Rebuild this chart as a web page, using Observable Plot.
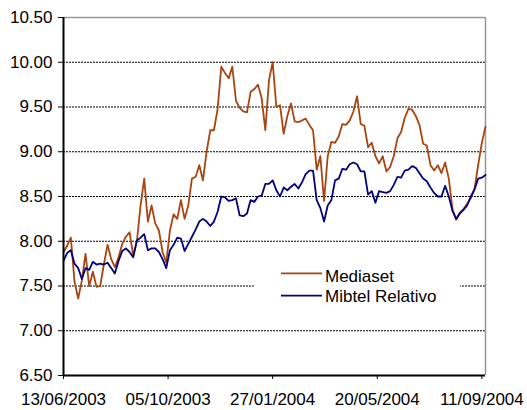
<!DOCTYPE html>
<html><head><meta charset="utf-8">
<script src="https://cdn.jsdelivr.net/npm/d3@7"></script>
<script src="https://cdn.jsdelivr.net/npm/@observablehq/plot@0.6"></script>
<style>
body{margin:0;background:#fff;}
#wrap{position:relative;width:527px;height:410px;font-family:"Liberation Sans",Arial,sans-serif;}
#legend{position:absolute;left:254px;top:262px;width:206px;height:46px;background:#fff;}
#legend svg{display:block;}
</style>
</head><body>
<div id="wrap"><div id="chart"></div><div id="legend"></div></div>
<script>
const startDate = "13/06/2003";
const xTickLabels = ["13/06/2003","05/10/2003","27/01/2004","20/05/2004","11/09/2004"];
const yTickLabels = ["6.50","7.00","7.50","8.00","8.50","9.00","9.50","10.00","10.50"];
const seriesNames = ["Mediaset","Mibtel Relativo"];
const seriesColors = ["#A8450F","#000080"];
// days after start date
const days = [0,4,8,12,16,20,24,28,32,36,40,44,48,52,56,60,64,68,72,76,80,84,88,92,96,100,104,108,112,116,120,124,128,132,136,140,144,148,152,156,160,164,168,172,176,180,184,188,192,196,200,204,208,212,216,220,224,228,232,236,240,244,248,252,256,260,264,268,272,276,280,284,288,292,296,300,304,308,312,316,320,324,328,332,336,340,344,348,352,356,360,364,368,372,376,380,384,388,392,396,400,404,408,412,416,420,424,428,432,436,440,444,448,452,456,460];
const mediaset = [7.88,7.95,8.04,7.55,7.36,7.56,7.86,7.50,7.66,7.49,
7.50,7.74,7.96,7.80,7.71,7.82,7.97,8.05,8.10,7.84,
8.00,8.40,8.70,8.22,8.40,8.20,8.12,7.88,7.76,8.12,
8.30,8.25,8.46,8.25,8.40,8.70,8.72,8.85,8.68,9.00,
9.24,9.24,9.48,9.95,9.88,9.82,9.95,9.57,9.49,9.45,
9.44,9.67,9.70,9.75,9.60,9.24,9.80,10.00,9.50,9.52,
9.20,9.40,9.54,9.34,9.33,9.35,9.37,9.30,9.24,8.80,
8.95,8.45,8.95,9.11,9.10,9.17,9.31,9.30,9.35,9.45,
9.62,9.31,9.29,9.05,9.10,8.95,8.87,8.95,8.78,8.83,
8.95,9.15,9.22,9.38,9.48,9.47,9.40,9.30,9.09,9.07,
8.85,8.79,8.85,8.76,8.88,8.70,8.36,8.24,8.32,8.36,
8.42,8.48,8.58,8.85,9.10,9.28];
const mibtel = [7.78,7.87,7.90,7.75,7.70,7.58,7.70,7.68,7.77,7.74,
7.75,7.74,7.76,7.70,7.64,7.78,7.89,7.92,7.88,7.82,
8.01,8.04,8.08,7.90,7.92,7.92,7.88,7.80,7.70,7.90,
7.96,8.04,8.03,7.89,7.97,8.05,8.13,8.22,8.25,8.22,
8.17,8.22,8.33,8.50,8.49,8.45,8.46,8.48,8.29,8.28,
8.31,8.46,8.44,8.50,8.51,8.64,8.64,8.68,8.57,8.50,
8.60,8.57,8.61,8.64,8.59,8.66,8.75,8.79,8.79,8.46,
8.37,8.22,8.40,8.46,8.68,8.70,8.81,8.80,8.86,8.88,
8.86,8.78,8.78,8.52,8.56,8.43,8.56,8.55,8.54,8.56,
8.63,8.72,8.71,8.79,8.80,8.84,8.82,8.76,8.70,8.67,
8.60,8.54,8.50,8.50,8.62,8.50,8.34,8.25,8.31,8.35,
8.40,8.50,8.58,8.70,8.71,8.74];

const parse = d3.timeParse("%d/%m/%Y");
const start = parse(startDate);
const rows = days.map((d,i)=>({date:d3.timeDay.offset(start,d), m:mediaset[i], b:mibtel[i]}));
const xStart = rows[0].date, xEnd = rows[rows.length-1].date;
const yTicks = yTickLabels.map(Number);
const grid = yTicks.slice(1,-1);
const font = '"Liberation Sans",Arial,sans-serif';

const chart = Plot.plot({
  width:527, height:410,
  marginLeft:63, marginRight:42, marginTop:17, marginBottom:35,
  x:{type:"time", domain:[xStart,xEnd]},
  y:{domain:[yTicks[0], yTicks[yTicks.length-1]]},
  style:{fontFamily:font, fontSize:"17px", color:"#000", background:"#fff", overflow:"visible"},
  marks:[
    Plot.ruleY(grid,{stroke:"#000", strokeWidth:1, strokeDasharray:"2,1"}),
    Plot.ruleY([yTicks[yTicks.length-1]],{stroke:"#999", strokeWidth:1.5}),
    Plot.ruleX([xEnd],{stroke:"#999", strokeWidth:1.5}),
    Plot.lineY(rows,{x:"date", y:"m", stroke:seriesColors[0], strokeWidth:1.8}),
    Plot.lineY(rows,{x:"date", y:"b", stroke:seriesColors[1], strokeWidth:1.8}),
    Plot.ruleX([xStart],{stroke:"#000", strokeWidth:2}),
    Plot.ruleY([yTicks[0]],{stroke:"#000", strokeWidth:2}),
    Plot.axisY({ticks:yTicks, tickFormat:(d)=>yTickLabels[yTicks.indexOf(d)], tickSize:5, tickPadding:6, fontSize:17, stroke:"#000"}),
    Plot.axisX({ticks:xTickLabels.map(parse), tickFormat:d3.timeFormat("%d/%m/%Y"), tickSize:4, tickPadding:13, fontSize:17, stroke:"#000"})
  ]
});
document.getElementById("chart").appendChild(chart);

// legend
const lg = d3.select("#legend").append("svg").attr("width",206).attr("height",46)
  .style("font-family",font).style("font-size","17px");
const rowsY = [{line:11.3, text:19.7},{line:33.7, text:39.7}];
seriesNames.forEach((n,i)=>{
  lg.append("line").attr("x1",27).attr("x2",68).attr("y1",rowsY[i].line).attr("y2",rowsY[i].line)
    .attr("stroke",seriesColors[i]).attr("stroke-width",1.8);
  lg.append("text").attr("x",71).attr("y",rowsY[i].text).attr("fill","#000").text(n);
});
</script>
</body></html>
